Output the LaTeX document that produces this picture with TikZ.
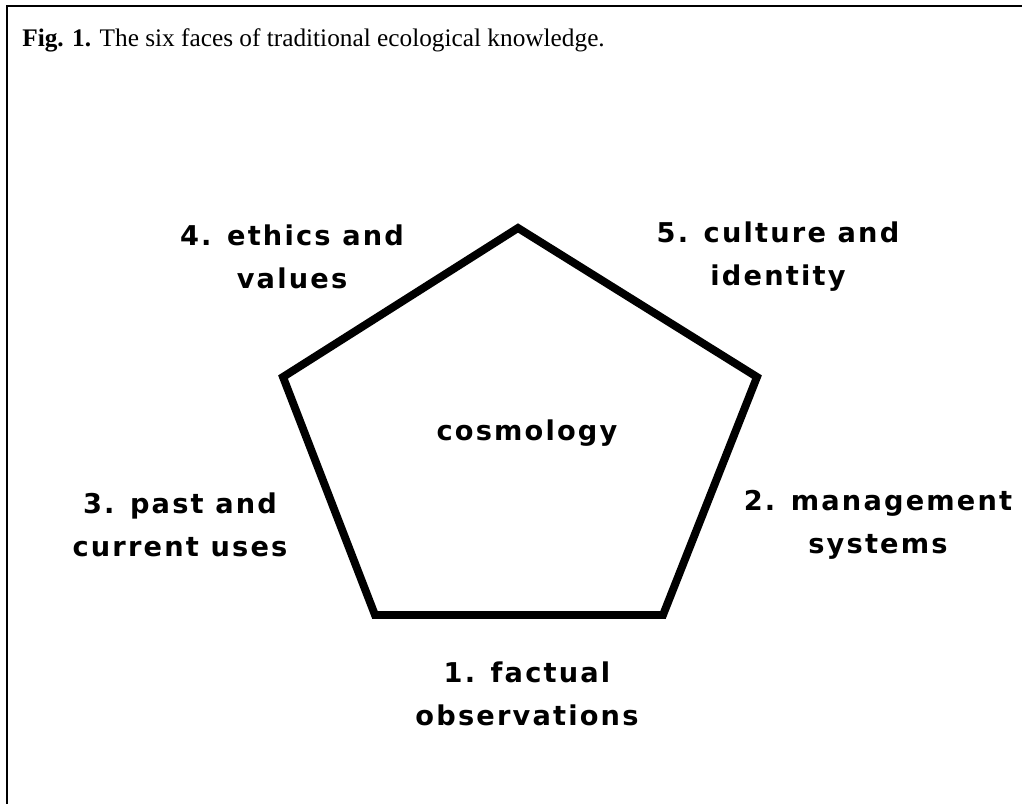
\documentclass[tikz,border=0pt]{standalone}
\usepackage{fontspec}
\setmainfont{Liberation Serif}
\newfontfamily\facefont[LetterSpace=8]{DejaVu Sans Bold}
\begin{document}
\begin{tikzpicture}[x=0.02cm,y=-0.02cm,
    face/.style={font=\facefont\fontsize{15.5}{24.5}\selectfont, align=center, inner sep=0pt},
    caption/.style={font=\fontsize{14.4}{16}\selectfont, anchor=base west, inner sep=0pt}]
    \useasboundingbox (0,0) rectangle (1022,804);
    % frame
    \draw[line width=1.7pt] (7,804) -- (7,6) -- (1022,6);
    \node[caption] (cap) at (22,47) {\textbf{Fig. 1.} The six faces of traditional ecological knowledge.};

    % pentagon corners
    \coordinate (top) at (518,228);
    \coordinate (left) at (283,377);
    \coordinate (right) at (757,377);
    \coordinate (botL) at (375,615);
    \coordinate (botR) at (663,615);
    \draw[line width=4.5pt, line join=miter] (top) -- (right) -- (botR) -- (botL) -- (left) -- cycle;

    \node[face] (center) at (527,433) {cosmology};
    \node[face] (f1) at (527,694) {1. factual\\observations};
    \node[face] (f2) at (878,525) {2. management\\systems};
    \node[face] (f3) at (180,525) {3. past and\\current uses};
    \node[face] (f4) at (292,257) {4. ethics and\\values};
    \node[face] (f5) at (778,257) {5. culture and\\identity};
\end{tikzpicture}
\end{document}
